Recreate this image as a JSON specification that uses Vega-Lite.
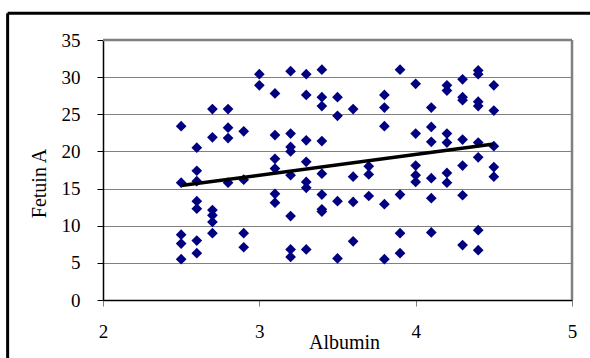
{
  "$schema": "https://vega.github.io/schema/vega-lite/v6.json",
  "width": 469,
  "height": 260,
  "autosize": {"type": "none"},
  "padding": {"left": 103, "top": 40, "right": 18, "bottom": 58},
  "background": "white",
  "config": {
    "view": {"stroke": null},
    "font": "Liberation Serif",
    "axisX": {
      "grid": false,
      "domainColor": "black",
      "domainWidth": 1.5,
      "tickColor": "#808080",
      "tickSize": 6,
      "labelFont": "Liberation Serif",
      "labelFontSize": 19,
      "labelColor": "black",
      "labelPadding": 16,
      "labelFlush": false,
      "labelOverlap": false,
      "titleFont": "Liberation Serif",
      "titleFontSize": 20,
      "titleFontWeight": "normal",
      "titleColor": "black"
    },
    "axisY": {
      "grid": true,
      "gridColor": "#808080",
      "gridWidth": 1,
      "domainColor": "black",
      "domainWidth": 1.5,
      "tickColor": "black",
      "tickSize": 6,
      "labelFont": "Liberation Serif",
      "labelFontSize": 19,
      "labelColor": "black",
      "labelPadding": 17,
      "labelOverlap": false,
      "labelFlush": false,
      "titleFont": "Liberation Serif",
      "titleFontSize": 20,
      "titleFontWeight": "normal",
      "titleColor": "black"
    }
  },
  "datasets": {
    "pts": [
      {"Albumin": 2.5, "FetuinA": 23.4}, {"Albumin": 2.5, "FetuinA": 15.8}, {"Albumin": 2.5, "FetuinA": 8.8}, {"Albumin": 2.5, "FetuinA": 7.6}, {"Albumin": 2.5, "FetuinA": 5.5},
      {"Albumin": 2.6, "FetuinA": 20.5}, {"Albumin": 2.6, "FetuinA": 17.4}, {"Albumin": 2.6, "FetuinA": 16.0}, {"Albumin": 2.6, "FetuinA": 13.3}, {"Albumin": 2.6, "FetuinA": 12.3}, {"Albumin": 2.6, "FetuinA": 8.0}, {"Albumin": 2.6, "FetuinA": 6.3},
      {"Albumin": 2.7, "FetuinA": 25.7}, {"Albumin": 2.7, "FetuinA": 21.9}, {"Albumin": 2.7, "FetuinA": 12.1}, {"Albumin": 2.7, "FetuinA": 11.4}, {"Albumin": 2.7, "FetuinA": 10.5}, {"Albumin": 2.7, "FetuinA": 9.0},
      {"Albumin": 2.8, "FetuinA": 25.7}, {"Albumin": 2.8, "FetuinA": 23.2}, {"Albumin": 2.8, "FetuinA": 21.8}, {"Albumin": 2.8, "FetuinA": 15.8},
      {"Albumin": 2.9, "FetuinA": 22.7}, {"Albumin": 2.9, "FetuinA": 16.2}, {"Albumin": 2.9, "FetuinA": 9.0}, {"Albumin": 2.9, "FetuinA": 7.1},
      {"Albumin": 3.0, "FetuinA": 30.4}, {"Albumin": 3.0, "FetuinA": 28.9},
      {"Albumin": 3.1, "FetuinA": 27.8}, {"Albumin": 3.1, "FetuinA": 22.2}, {"Albumin": 3.1, "FetuinA": 19.0}, {"Albumin": 3.1, "FetuinA": 17.7}, {"Albumin": 3.1, "FetuinA": 14.3}, {"Albumin": 3.1, "FetuinA": 13.1},
      {"Albumin": 3.2, "FetuinA": 30.8}, {"Albumin": 3.2, "FetuinA": 22.4}, {"Albumin": 3.2, "FetuinA": 20.6}, {"Albumin": 3.2, "FetuinA": 20.0}, {"Albumin": 3.2, "FetuinA": 16.8}, {"Albumin": 3.2, "FetuinA": 11.3}, {"Albumin": 3.2, "FetuinA": 6.8}, {"Albumin": 3.2, "FetuinA": 5.8},
      {"Albumin": 3.3, "FetuinA": 30.4}, {"Albumin": 3.3, "FetuinA": 27.6}, {"Albumin": 3.3, "FetuinA": 21.5}, {"Albumin": 3.3, "FetuinA": 18.6}, {"Albumin": 3.3, "FetuinA": 15.9}, {"Albumin": 3.3, "FetuinA": 15.1}, {"Albumin": 3.3, "FetuinA": 6.8},
      {"Albumin": 3.4, "FetuinA": 31.0}, {"Albumin": 3.4, "FetuinA": 27.3}, {"Albumin": 3.4, "FetuinA": 26.1}, {"Albumin": 3.4, "FetuinA": 21.4}, {"Albumin": 3.4, "FetuinA": 17.0}, {"Albumin": 3.4, "FetuinA": 14.2}, {"Albumin": 3.4, "FetuinA": 12.2}, {"Albumin": 3.4, "FetuinA": 11.9},
      {"Albumin": 3.5, "FetuinA": 27.3}, {"Albumin": 3.5, "FetuinA": 24.8}, {"Albumin": 3.5, "FetuinA": 13.3}, {"Albumin": 3.5, "FetuinA": 5.6},
      {"Albumin": 3.6, "FetuinA": 25.7}, {"Albumin": 3.6, "FetuinA": 16.6}, {"Albumin": 3.6, "FetuinA": 13.2}, {"Albumin": 3.6, "FetuinA": 7.9},
      {"Albumin": 3.7, "FetuinA": 18.0}, {"Albumin": 3.7, "FetuinA": 16.9}, {"Albumin": 3.7, "FetuinA": 14.0},
      {"Albumin": 3.8, "FetuinA": 27.6}, {"Albumin": 3.8, "FetuinA": 25.9}, {"Albumin": 3.8, "FetuinA": 23.4}, {"Albumin": 3.8, "FetuinA": 12.9}, {"Albumin": 3.8, "FetuinA": 5.5},
      {"Albumin": 3.9, "FetuinA": 31.0}, {"Albumin": 3.9, "FetuinA": 14.2}, {"Albumin": 3.9, "FetuinA": 9.0}, {"Albumin": 3.9, "FetuinA": 6.3},
      {"Albumin": 4.0, "FetuinA": 29.1}, {"Albumin": 4.0, "FetuinA": 22.4}, {"Albumin": 4.0, "FetuinA": 18.1}, {"Albumin": 4.0, "FetuinA": 16.8}, {"Albumin": 4.0, "FetuinA": 15.9},
      {"Albumin": 4.1, "FetuinA": 25.9}, {"Albumin": 4.1, "FetuinA": 23.3}, {"Albumin": 4.1, "FetuinA": 21.3}, {"Albumin": 4.1, "FetuinA": 16.4}, {"Albumin": 4.1, "FetuinA": 13.7}, {"Albumin": 4.1, "FetuinA": 9.1},
      {"Albumin": 4.2, "FetuinA": 28.9}, {"Albumin": 4.2, "FetuinA": 28.2}, {"Albumin": 4.2, "FetuinA": 22.4}, {"Albumin": 4.2, "FetuinA": 21.2}, {"Albumin": 4.2, "FetuinA": 17.1}, {"Albumin": 4.2, "FetuinA": 15.8},
      {"Albumin": 4.3, "FetuinA": 29.7}, {"Albumin": 4.3, "FetuinA": 27.3}, {"Albumin": 4.3, "FetuinA": 26.9}, {"Albumin": 4.3, "FetuinA": 21.6}, {"Albumin": 4.3, "FetuinA": 18.1}, {"Albumin": 4.3, "FetuinA": 14.1}, {"Albumin": 4.3, "FetuinA": 7.4},
      {"Albumin": 4.4, "FetuinA": 30.9}, {"Albumin": 4.4, "FetuinA": 30.4}, {"Albumin": 4.4, "FetuinA": 26.7}, {"Albumin": 4.4, "FetuinA": 26.1}, {"Albumin": 4.4, "FetuinA": 21.2}, {"Albumin": 4.4, "FetuinA": 19.2}, {"Albumin": 4.4, "FetuinA": 9.4}, {"Albumin": 4.4, "FetuinA": 6.7},
      {"Albumin": 4.5, "FetuinA": 28.9}, {"Albumin": 4.5, "FetuinA": 25.5}, {"Albumin": 4.5, "FetuinA": 20.7}, {"Albumin": 4.5, "FetuinA": 17.9}, {"Albumin": 4.5, "FetuinA": 16.6}
    ],
    "trend": [
      {"Albumin": 2.5, "FetuinA": 15.4},
      {"Albumin": 4.5, "FetuinA": 21.0}
    ],
    "one": [{"k": 1}]
  },
  "layer": [
    {
      "data": {"name": "one"},
      "mark": {"type": "rule", "color": "black", "strokeWidth": 3, "clip": false},
      "encoding": {
        "x": {"datum": 1.39, "type": "quantitative", "scale": {"domain": [2, 5], "nice": false, "zero": false}, "axis": {"title": "Albumin", "values": [2, 3, 4, 5], "format": "d", "titleX": 241, "titleY": 48, "titleAlign": "center", "titleBaseline": "alphabetic"}},
        "y": {"datum": 38.6, "type": "quantitative", "scale": {"domain": [0, 35], "nice": false, "zero": true}, "axis": {"title": "Fetuin A", "values": [0, 5, 10, 15, 20, 25, 30, 35], "format": "d", "titleX": -58, "titleY": 143, "titleAlign": "center", "titleBaseline": "alphabetic", "titleAngle": -90}},
        "y2": {"datum": -10}
      }
    },
    {
      "data": {"name": "one"},
      "mark": {"type": "rule", "color": "black", "strokeWidth": 3, "clip": false},
      "encoding": {
        "x": {"datum": 1.39, "type": "quantitative", "scale": {"domain": [2, 5], "nice": false, "zero": false}, "axis": {"title": "Albumin", "values": [2, 3, 4, 5], "format": "d", "titleX": 241, "titleY": 48, "titleAlign": "center", "titleBaseline": "alphabetic"}},
        "x2": {"datum": 5.3},
        "y": {"datum": 38.6, "type": "quantitative", "scale": {"domain": [0, 35], "nice": false, "zero": true}, "axis": {"title": "Fetuin A", "values": [0, 5, 10, 15, 20, 25, 30, 35], "format": "d", "titleX": -58, "titleY": 143, "titleAlign": "center", "titleBaseline": "alphabetic", "titleAngle": -90}}
      }
    },
    {
      "data": {"name": "one"},
      "mark": {"type": "rule", "color": "#808080", "strokeWidth": 2.5},
      "encoding": {
        "x": {"datum": 5, "type": "quantitative", "scale": {"domain": [2, 5], "nice": false, "zero": false}, "axis": {"title": "Albumin", "values": [2, 3, 4, 5], "format": "d", "titleX": 241, "titleY": 48, "titleAlign": "center", "titleBaseline": "alphabetic"}},
        "y": {"datum": 35, "type": "quantitative", "scale": {"domain": [0, 35], "nice": false, "zero": true}, "axis": {"title": "Fetuin A", "values": [0, 5, 10, 15, 20, 25, 30, 35], "format": "d", "titleX": -58, "titleY": 143, "titleAlign": "center", "titleBaseline": "alphabetic", "titleAngle": -90}},
        "y2": {"datum": 0}
      }
    },
    {
      "data": {"name": "one"},
      "mark": {"type": "rule", "color": "#808080", "strokeWidth": 2.5},
      "encoding": {
        "x": {"datum": 2, "type": "quantitative", "scale": {"domain": [2, 5], "nice": false, "zero": false}, "axis": {"title": "Albumin", "values": [2, 3, 4, 5], "format": "d", "titleX": 241, "titleY": 48, "titleAlign": "center", "titleBaseline": "alphabetic"}},
        "x2": {"datum": 5},
        "y": {"datum": 35, "type": "quantitative", "scale": {"domain": [0, 35], "nice": false, "zero": true}, "axis": {"title": "Fetuin A", "values": [0, 5, 10, 15, 20, 25, 30, 35], "format": "d", "titleX": -58, "titleY": 143, "titleAlign": "center", "titleBaseline": "alphabetic", "titleAngle": -90}}
      }
    },
    {
      "data": {"name": "pts"},
      "mark": {"type": "point", "shape": "diamond", "filled": true, "color": "#000080", "size": 115, "opacity": 1},
      "encoding": {
        "x": {"field": "Albumin", "type": "quantitative", "scale": {"domain": [2, 5], "nice": false, "zero": false}, "axis": {"title": "Albumin", "values": [2, 3, 4, 5], "format": "d", "titleX": 241, "titleY": 48, "titleAlign": "center", "titleBaseline": "alphabetic"}},
        "y": {"field": "FetuinA", "type": "quantitative", "scale": {"domain": [0, 35], "nice": false, "zero": true}, "axis": {"title": "Fetuin A", "values": [0, 5, 10, 15, 20, 25, 30, 35], "format": "d", "titleX": -58, "titleY": 143, "titleAlign": "center", "titleBaseline": "alphabetic", "titleAngle": -90}}
      }
    },
    {
      "data": {"name": "trend"},
      "mark": {"type": "line", "color": "black", "strokeWidth": 3.5},
      "encoding": {
        "x": {"field": "Albumin", "type": "quantitative", "scale": {"domain": [2, 5], "nice": false, "zero": false}, "axis": {"title": "Albumin", "values": [2, 3, 4, 5], "format": "d", "titleX": 241, "titleY": 48, "titleAlign": "center", "titleBaseline": "alphabetic"}},
        "y": {"field": "FetuinA", "type": "quantitative", "scale": {"domain": [0, 35], "nice": false, "zero": true}, "axis": {"title": "Fetuin A", "values": [0, 5, 10, 15, 20, 25, 30, 35], "format": "d", "titleX": -58, "titleY": 143, "titleAlign": "center", "titleBaseline": "alphabetic", "titleAngle": -90}}
      }
    }
  ]
}
